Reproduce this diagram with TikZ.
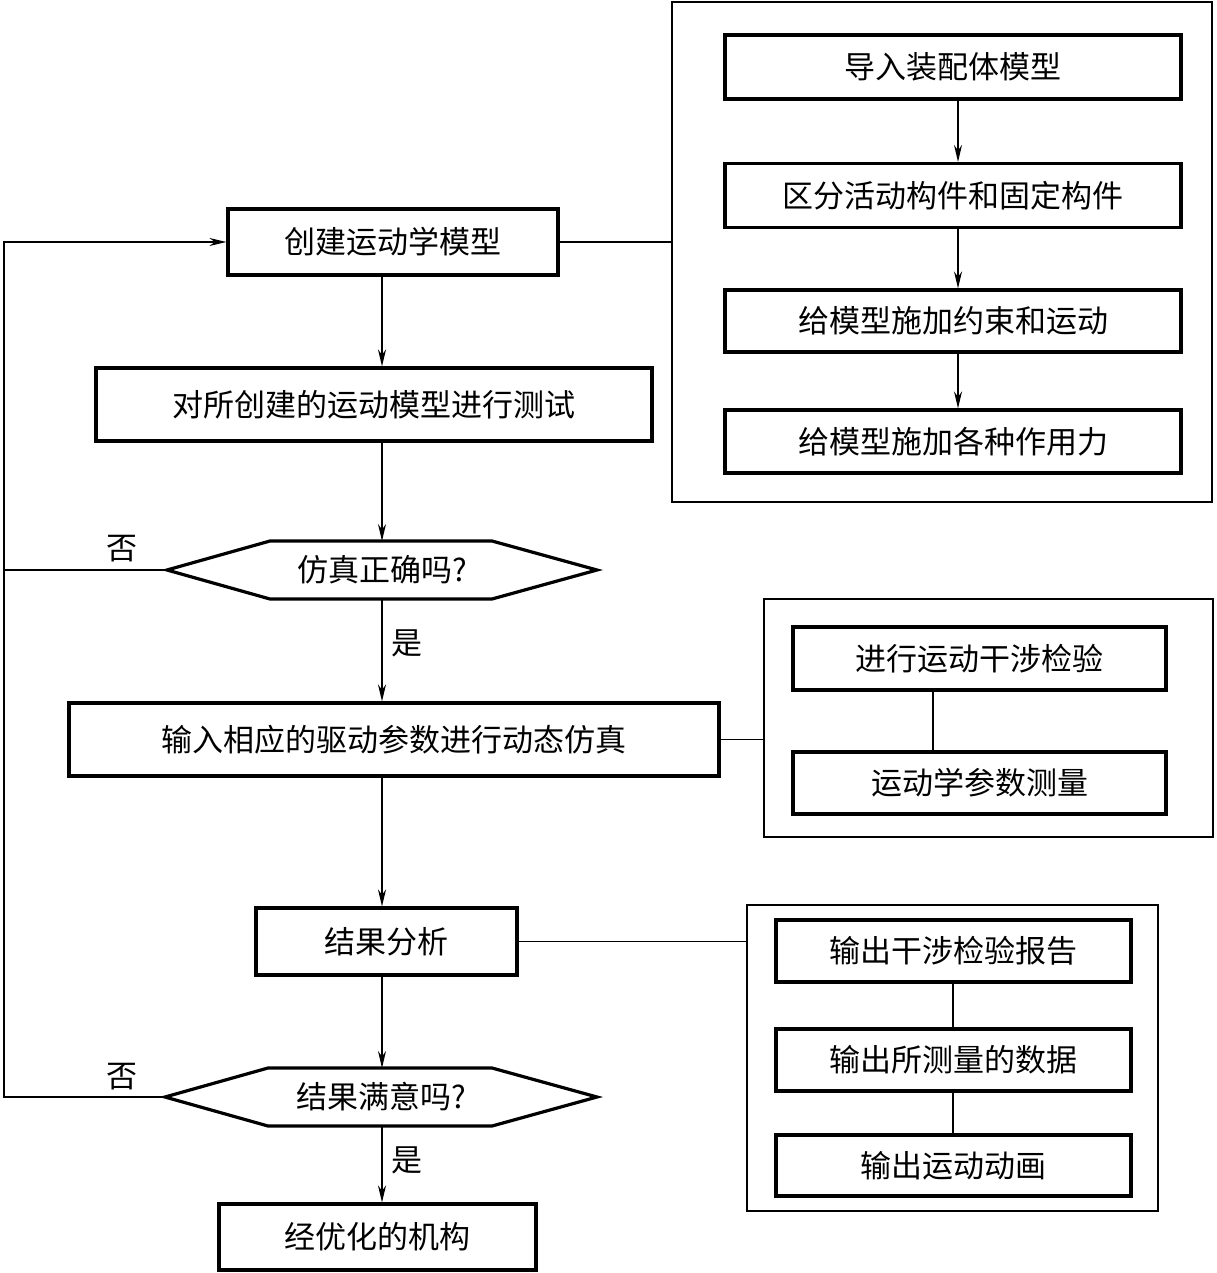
\documentclass[tikz,border=0pt]{standalone}
\usepackage{fontspec}
\newfontfamily\cjk{Noto Sans CJK SC}
\usetikzlibrary{arrows.meta,calc}
\begin{document}
\begin{tikzpicture}[x=1pt,y=-1pt,
  box/.style={draw, line width=3.2pt, inner sep=0pt, font=\cjk\fontsize{31}{33}\selectfont},
  frm/.style={draw, line width=1.6pt, inner sep=0pt},
  thinl/.style={line width=1.6pt},
  hexl/.style={line width=3.2pt, line join=miter},
  lbl/.style={font=\cjk\fontsize{31}{33}\selectfont, inner sep=0pt},
  arr/.style={thinl, -{Stealth[length=17pt,width=8pt]}}]
\useasboundingbox (0,0) rectangle (1216,1273);
\coordinate (spine) at (382,0);
\coordinate (fb) at (4,0);
% main column
\node[box, minimum width=330pt, minimum height=66pt] (a1) at (393,242) {创建运动学模型};
\node[box, minimum width=556pt, minimum height=73pt] (a2) at (374,404.5) {对所创建的运动模型进行测试};
\draw[hexl] (167,570) -- (270,541) -- (492,541) -- (597,570) -- (492,599) -- (270,599) -- cycle;
\coordinate (d1n) at (382,541);
\coordinate (d1s) at (382,599);
\coordinate (d1w) at (167,570);
\node[lbl] (d1) at (382,570) {仿真正确吗?};
\node[box, minimum width=650pt, minimum height=73pt] (a3) at (394,739.5) {输入相应的驱动参数进行动态仿真};
\node[box, minimum width=261pt, minimum height=67pt] (a4) at (386.5,941.5) {结果分析};
\draw[hexl] (165,1097) -- (268,1068) -- (492,1068) -- (597,1097) -- (492,1126) -- (268,1126) -- cycle;
\coordinate (d2n) at (382,1068);
\coordinate (d2s) at (382,1126);
\coordinate (d2w) at (165,1097);
\node[lbl] (d2) at (381,1097) {结果满意吗?};
\node[box, minimum width=317pt, minimum height=66pt] (a5) at (377.5,1237) {经优化的机构};
% labels
\node[lbl] (no1) at (122,549) {否};
\node[lbl] (yes1) at (407,643) {是};
\node[lbl] (no2) at (122,1077) {否};
\node[lbl] (yes2) at (407,1160) {是};
% main arrows
\draw[arr] (a1.south -| spine) -- (a2.north -| spine);
\draw[arr] (a2.south -| spine) -- (d1n);
\draw[arr] (d1s) -- (a3.north -| spine);
\draw[arr] (a3.south -| spine) -- (a4.north -| spine);
\draw[arr] (a4.south -| spine) -- (d2n);
\draw[arr] (d2s) -- (a5.north -| spine);
% feedback
\draw[arr] (d1w) -- (d1w -| fb) |- (a1.west);
\draw[thinl] (d2w) -- (d2w -| fb) -- (d1w -| fb);
% group 1
\node[frm, minimum width=540pt, minimum height=500pt] (f1) at (942,252) {};
\coordinate (s1) at (958,0);
\node[box, minimum width=456pt, minimum height=64pt] (b1) at (953,67) {导入装配体模型};
\node[box, minimum width=456pt, minimum height=64pt] (b2) at (953,195.5) {区分活动构件和固定构件};
\node[box, minimum width=456pt, minimum height=62pt] (b3) at (953,321) {给模型施加约束和运动};
\node[box, minimum width=456pt, minimum height=63pt] (b4) at (953,441.5) {给模型施加各种作用力};
\draw[arr] (b1.south -| s1) -- (b2.north -| s1);
\draw[arr] (b2.south -| s1) -- (b3.north -| s1);
\draw[arr] (b3.south -| s1) -- (b4.north -| s1);
\draw[thinl] (a1.east) -- (a1.east -| f1.west);
% group 2
\node[frm, minimum width=449pt, minimum height=238pt] (f2) at (988.5,718) {};
\coordinate (s2) at (933,0);
\node[box, minimum width=373pt, minimum height=63pt] (c1) at (979.5,658.5) {进行运动干涉检验};
\node[box, minimum width=373pt, minimum height=62pt] (c2) at (979.5,783) {运动学参数测量};
\draw[thinl] (c1.south -| s2) -- (c2.north -| s2);
\draw[thinl] (a3.east) -- (a3.east -| f2.west);
% group 3
\node[frm, minimum width=411pt, minimum height=306pt] (f3) at (952.5,1058) {};
\coordinate (s3) at (953,0);
\node[box, minimum width=355pt, minimum height=62pt] (e1) at (953.5,951) {输出干涉检验报告};
\node[box, minimum width=355pt, minimum height=62pt] (e2) at (953.5,1060) {输出所测量的数据};
\node[box, minimum width=355pt, minimum height=61pt] (e3) at (953.5,1165.5) {输出运动动画};
\draw[thinl] (e1.south -| s3) -- (e2.north -| s3);
\draw[thinl] (e2.south -| s3) -- (e3.north -| s3);
\draw[thinl] (a4.east) -- (a4.east -| f3.west);
\end{tikzpicture}
\end{document}
